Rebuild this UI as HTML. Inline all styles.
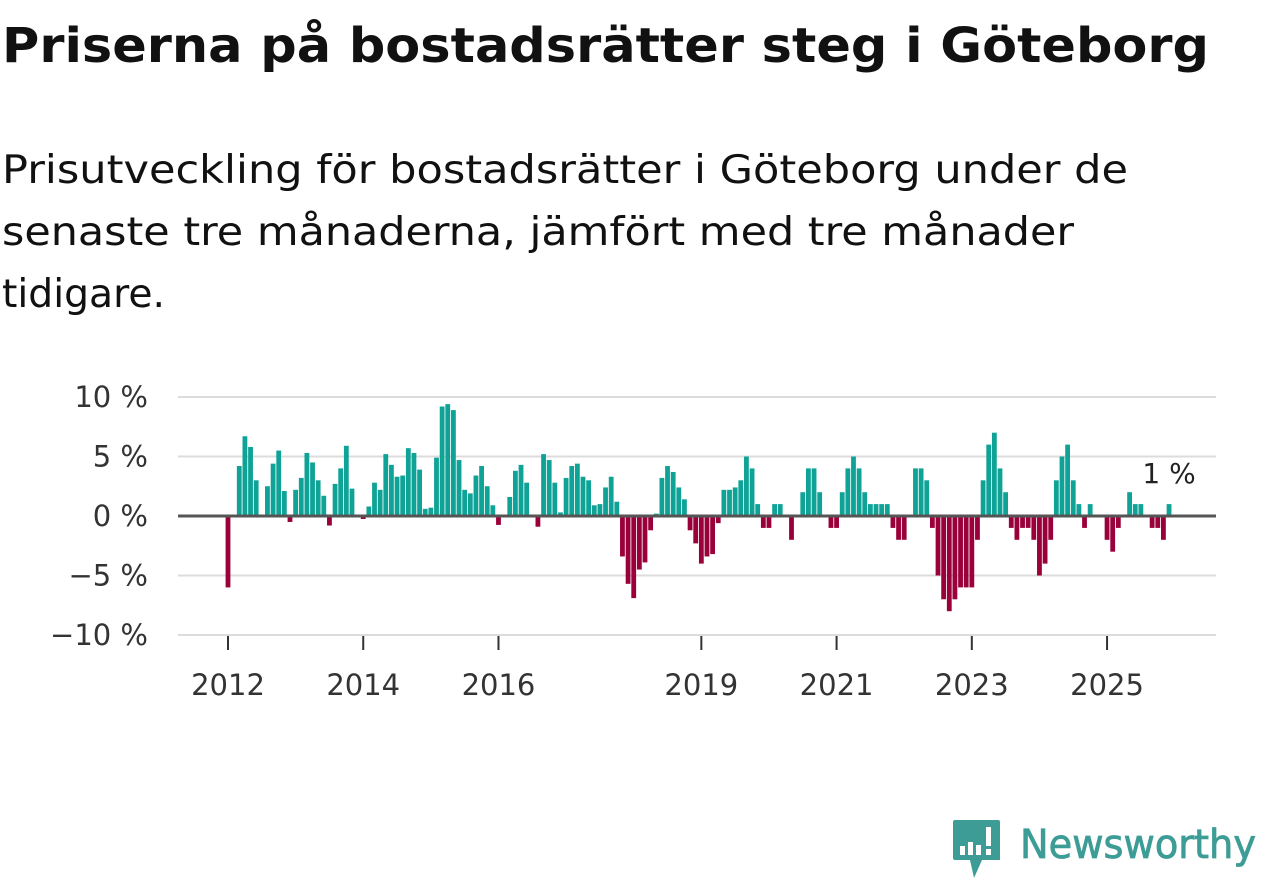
<!DOCTYPE html>
<html><head><meta charset="utf-8">
<style>
body{margin:0;width:1262px;height:879px;background:#fff;overflow:hidden;font-family:"DejaVu Sans","Liberation Sans",sans-serif;}
svg{position:absolute;left:0;top:0;}
</style></head><body>
<svg id="chart" width="1262" height="879">
<text x="2" y="62" font-size="48" font-weight="bold" fill="#111" font-family="DejaVu Sans, sans-serif" textLength="1207" lengthAdjust="spacingAndGlyphs">Priserna på bostadsrätter steg i Göteborg</text>
<g font-size="39" fill="#111" font-family="DejaVu Sans, sans-serif">
<text x="2" y="183" textLength="1126" lengthAdjust="spacingAndGlyphs">Prisutveckling för bostadsrätter i Göteborg under de</text>
<text x="2" y="245" textLength="1072" lengthAdjust="spacingAndGlyphs">senaste tre månaderna, jämfört med tre månader</text>
<text x="2" y="307" textLength="163" lengthAdjust="spacingAndGlyphs">tidigare.</text>
</g>
<text x="1020" y="858" font-size="40" fill="#3d9d96" font-family="DejaVu Sans, sans-serif" textLength="236" lengthAdjust="spacingAndGlyphs" stroke="#3d9d96" stroke-width="0.8">Newsworthy</text>
</svg>
<div style="position:absolute;left:950px;top:818px;width:60px;height:61px;">
<svg width="52" height="61" style="left:0;top:0">
<path d="M3 4 Q3 2 5 2 H48 Q50 2 50 4 V42 H32 L24 60 L20 42 H5 Q3 42 3 40 Z" fill="#3d9d96"/>
<rect x="10" y="28" width="5" height="9" fill="#fff"/><rect x="18" y="24" width="5" height="13" fill="#fff"/><rect x="26" y="27" width="5" height="10" fill="#fff"/><rect x="36" y="9" width="5" height="19" fill="#fff"/><rect x="36" y="31" width="5" height="6" fill="#fff"/>
</svg>
</div>
<script>
const values=[-6,0,4.2,6.7,5.8,3.0,0,2.5,4.4,5.5,2.1,-0.5,2.2,3.2,5.3,4.5,3.0,1.7,-0.8,2.7,4.0,5.9,2.3,0,-0.25,0.8,2.8,2.2,5.2,4.3,3.3,3.4,5.7,5.3,3.9,0.6,0.7,4.9,9.2,9.4,8.9,4.7,2.2,1.9,3.4,4.2,2.5,0.9,-0.75,0,1.6,3.8,4.3,2.8,0,-0.9,5.2,4.7,2.8,0.3,3.2,4.2,4.4,3.3,3.0,0.9,1.0,2.4,3.3,1.2,-3.4,-5.7,-6.9,-4.5,-3.9,-1.2,0.2,3.2,4.2,3.7,2.4,1.4,-1.2,-2.3,-4.0,-3.4,-3.2,-0.6,2.2,2.2,2.4,3.0,5.0,4.0,1.0,-1,-1,1,1,0,-2,0,2,4,4,2,0,-1,-1,2,4,5,4,2,1,1,1,1,-1,-2,-2,0,4,4,3,-1,-5,-7,-8,-7,-6,-6,-6,-2,3,6,7,4,2,-1,-2,-1,-1,-2,-5,-4,-2,3,5,6,3,1,-1,1,0,0,-2,-3,-1,0,2,1,1,0,-1,-1,-2,1];
const yTicks=[10,5,0,-5,-10];
const yTickLabels=["10 %","5 %","0 %","−5 %","−10 %"];
const xTickYears=[2012,2014,2016,2019,2021,2023,2025];
const startYear=2012;
const NS="http://www.w3.org/2000/svg";
const svg=document.getElementById('chart');
const y=v=>516-v*11.9;
const x=i=>228+i*5.635;
function el(t,a){const e=document.createElementNS(NS,t);for(const k in a)e.setAttribute(k,a[k]);svg.appendChild(e);return e;}
yTicks.forEach((t,k)=>{
  if(t!==0){const g=el('line',{x1:178,x2:1216,y1:y(t),y2:y(t),stroke:'#dcdcdc','stroke-width':2});
  
  }
  const tx=el('text',{x:148,y:y(t)+10,'text-anchor':'end','font-size':29,fill:'#333','font-family':'DejaVu Sans, sans-serif'});
  tx.textContent=yTickLabels[k];
  
  
});
values.forEach((v,i)=>{
  if(v===0)return;
  const r=el('rect',{x:x(i)-2.4,y:Math.min(y(v),y(0)),width:4.8,height:Math.abs(y(v)-y(0)),fill:v>0?'#0ea396':'#9a0039'});
  
  
});
const z=el('line',{x1:178,x2:1216,y1:516,y2:516,stroke:'#555','stroke-width':3});


xTickYears.forEach(yr=>{
  const xi=x((yr-startYear)*12);
  const tk=el('line',{x1:xi,x2:xi,y1:636,y2:650,stroke:'#333','stroke-width':2});
  
  
  const t=el('text',{x:xi,y:695,'text-anchor':'middle','font-size':29,fill:'#333','font-family':'DejaVu Sans, sans-serif'});
  t.textContent=yr;
  
  
});
const last=values.length-1;
const lab=el('text',{x:x(last),y:483,'text-anchor':'middle','font-size':28,fill:'#222',stroke:'#fff','stroke-width':6,'paint-order':'stroke','font-family':'DejaVu Sans, sans-serif'});
lab.textContent=Math.round(values[last])+" %";


</script>
</body></html>
